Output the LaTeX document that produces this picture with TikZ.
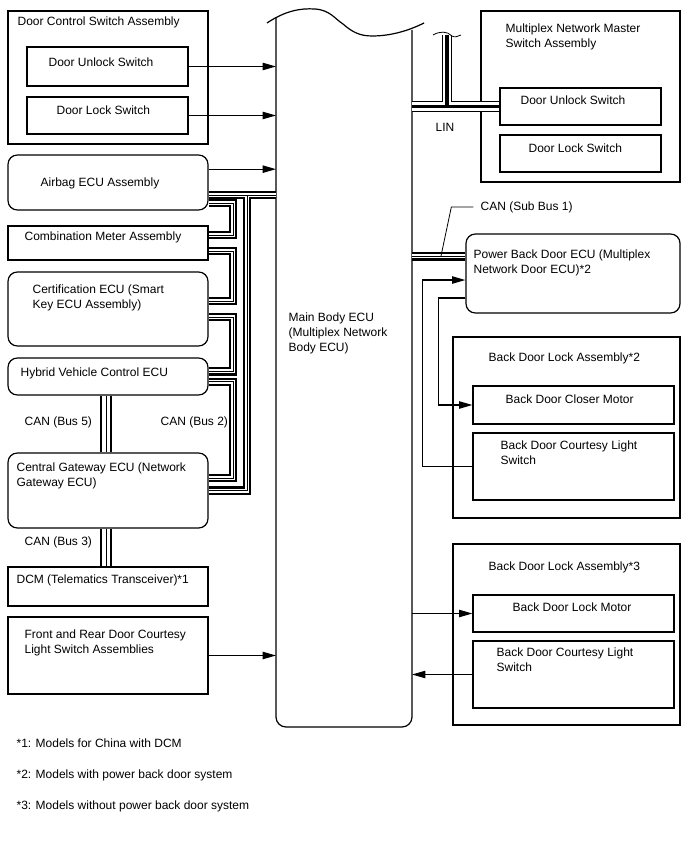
\documentclass[tikz,border=0pt]{standalone}
\usepackage{fontspec}
\setmainfont{Liberation Sans}
\usetikzlibrary{arrows.meta, positioning, calc}

% bus drawn in three layers: outer black, white gap, core
\newcommand\busline[4]{%
  \draw[line width=#1] #4;
  \draw[white, line width=#2] #4;
  \draw[line width=#3] #4;}

\begin{document}
\begin{tikzpicture}[x=0.75pt, y=-0.75pt, font=\fontsize{9}{11.25}\selectfont, line width=0.9pt,
  box/.style={draw, line width=0.9pt, inner sep=0pt},
  rbox/.style={box, rounded corners=7pt},
  sz/.style 2 args={minimum width=#1*0.75pt, minimum height=#2*0.75pt},
  lbl/.style={anchor=west, align=left, inner sep=0pt},
  arr/.style={-{Triangle[length=10pt, width=5.5pt]}}]
\useasboundingbox (0,0) rectangle (688,852);

% left column
\node[box, sz={200}{133}] (dcs) at (108,77.5) {};
\node[lbl] (dcst) at (17,22) {Door Control Switch Assembly};
\node[box, sz={161}{39}] (dus) at (107.5,66.5) {};
\node[lbl] (dust) at (48,62) {Door Unlock Switch};
\node[box, sz={161}{37}] (dls) at (107.5,115.5) {};
\node[lbl] (dlst) at (56,110) {Door Lock Switch};
\node[rbox, sz={200}{55}] (air) at (108,182.5) {};
\node[lbl] (airt) at (40,183) {Airbag ECU Assembly};
\node[box, sz={200}{34}] (cmb) at (108,243) {};
\node[lbl] (cmbt) at (24,237) {Combination Meter Assembly};
\node[rbox, sz={200}{74}] (cert) at (108,309) {};
\node[lbl] (certt) at (32,297.5) {Certification ECU (Smart\\Key ECU Assembly)};
\node[rbox, sz={200}{37}] (hv) at (108,376.5) {};
\node[lbl] (hvt) at (20,373) {Hybrid Vehicle Control ECU};
\node[lbl] (bus5) at (24,422) {CAN (Bus 5)};
\node[lbl] (bus2) at (160,422) {CAN (Bus 2)};
\node[rbox, sz={200}{75}] (cgw) at (108,490.5) {};
\node[lbl] (cgwt) at (16,475.5) {Central Gateway ECU (Network\\Gateway ECU)};
\node[lbl] (bus3) at (24,542) {CAN (Bus 3)};
\node[box, sz={200}{39}] (dcm) at (108,586.5) {};
\node[lbl] (dcmt) at (16,580) {DCM (Telematics Transceiver)*1};
\node[box, sz={200}{77}] (frd) at (108,655.5) {};
\node[lbl] (frdt) at (24,642.5) {Front and Rear Door Courtesy\\Light Switch Assemblies};

% main body ECU
\coordinate (mbL) at (276,0);
\coordinate (mbR) at (412,0);
\draw[rounded corners=7.5pt] (276,18) -- (276,727) -- (412,727) -- (412,30);
\draw (267,23) .. controls (285,11) and (300,8) .. (315,9)
  .. controls (330,10) and (335,19) .. (343,24)
  .. controls (352,32) and (360,36) .. (372,36)
  .. controls (392,36) and (410,30) .. (424,23);
\node[lbl] (mbt) at (288,333) {Main Body ECU\\(Multiplex Network\\Body ECU)};

% right column
\node[box, sz={199}{171}] (mnm) at (580.5,96.5) {};
\node[lbl] (mnmt) at (505,37) {Multiplex Network Master\\Switch Assembly};
\node[box, sz={161}{37}] (rus) at (580.5,106.5) {};
\node[lbl] (rust) at (520,100) {Door Unlock Switch};
\node[box, sz={161}{37}] (rls) at (580.5,153.5) {};
\node[lbl] (rlst) at (528,148) {Door Lock Switch};
\node[lbl] (lin) at (435,127) {LIN};
\node[lbl] (subl) at (480,207) {CAN (Sub Bus 1)};
\node[rbox, sz={214}{79}] (pbd) at (573,273.5) {};
\node[lbl] (pbdt) at (473,262.5) {Power Back Door ECU (Multiplex\\Network Door ECU)*2};
\node[box, sz={227}{181}] (bdl2) at (566.5,427.5) {};
\node[lbl] (bdl2t) at (488,358) {Back Door Lock Assembly*2};
\node[box, sz={201}{38}] (cm) at (573.5,405) {};
\node[lbl] (cmt) at (505,399) {Back Door Closer Motor};
\node[box, sz={201}{67}] (cls2) at (573.5,466.5) {};
\node[lbl] (cls2t) at (500,452.5) {Back Door Courtesy Light\\Switch};
\node[box, sz={227}{181}] (bdl3) at (566.5,634.5) {};
\node[lbl] (bdl3t) at (488,567) {Back Door Lock Assembly*3};
\node[box, sz={201}{37}] (lm) at (573.5,613.5) {};
\node[lbl] (lmt) at (512,607) {Back Door Lock Motor};
\node[box, sz={201}{67}] (cls3) at (573.5,674.5) {};
\node[lbl] (cls3t) at (496,660) {Back Door Courtesy Light\\Switch};

% footnotes
\node[lbl] (fn1) at (16,743) {*1: Models for China with DCM};
\node[lbl] (fn2) at (16,775) {*2: Models with power back door system};
\node[lbl] (fn3) at (16,806) {*3: Models without power back door system};

% signal lines
\draw[arr] (dus.east) -- (dus.east -| mbL);
\draw[arr] (dls.east) -- (dls.east -| mbL);
\draw[arr] ([yshift=10pt]air.east) -- ([yshift=10pt]air.east -| mbL);
\draw[arr] (frd.east) -- (frd.east -| mbL);
\draw[arr] (lm.west -| mbR) -- (lm.west);
\draw[arr] (cls3.west) -- (cls3.west -| mbR);
\draw[arr] (cls2.west) -- ++(-50,0) |- ([yshift=-4.9pt]pbd.west);
\draw[arr] ([yshift=-18.4pt]pbd.west) -- ++(-27,0) |- (cm.west);

% LIN
\coordinate (linT) at (447,35);
\busline{8pt}{6.6pt}{2.6pt}{(rus.west -| mbR) -- (rus.west) (linT) -- (linT |- rus.west)}
\draw[line width=0.6pt] (433,35) .. controls (440,31) and (447,31) .. (452,36)
  .. controls (455,38) and (458,36) .. (461,35);

% CAN sub bus 1
\coordinate (sb) at ([yshift=13pt]pbd.west);
\coordinate (sbp) at (441,256);
\busline{6.5pt}{3pt}{0.7pt}{(sb -| mbR) -- (sb)}
\draw[line width=0.6pt] ([xshift=-5pt]subl.west) -- ++(-22,0) -- (sbp);

% CAN bus 5 and bus 3
\busline{9.5pt}{5.5pt}{0.7pt}{([xshift=-1.5pt]hv.south) -- ([xshift=-1.5pt]cgw.north)}
\busline{9.5pt}{5.5pt}{0.7pt}{([xshift=-1.5pt]cgw.south) -- ([xshift=-1.5pt]dcm.north)}

% CAN bus 2
\coordinate (xo) at (247,0);
\coordinate (xi) at (233,0);
\coordinate (b2a) at ([yshift=-9.4pt]air.east);
\busline{6.5pt}{3pt}{0.7pt}{(b2a) -- (b2a -| mbL) (b2a -| xo) |- (cgw.east)}
\busline{6.5pt}{3pt}{0.7pt}{([yshift=-15.4pt]air.east) -- ([yshift=-15.4pt]air.east -| xi) |- ([yshift=6pt]cmb.east)}
\busline{6.5pt}{3pt}{0.7pt}{([yshift=-6pt]cmb.east) -- ([yshift=-6pt]cmb.east -| xi) |- ([yshift=6pt]cert.east)}
\busline{6.5pt}{3pt}{0.7pt}{([yshift=-6pt]cert.east) -- ([yshift=-6pt]cert.east -| xi) |- ([yshift=4pt]hv.east)}
\busline{6.5pt}{3pt}{0.7pt}{([yshift=-4pt]hv.east) -- ([yshift=-4pt]hv.east -| xi) |- ([yshift=9.4pt]cgw.east)}
\end{tikzpicture}
\end{document}
